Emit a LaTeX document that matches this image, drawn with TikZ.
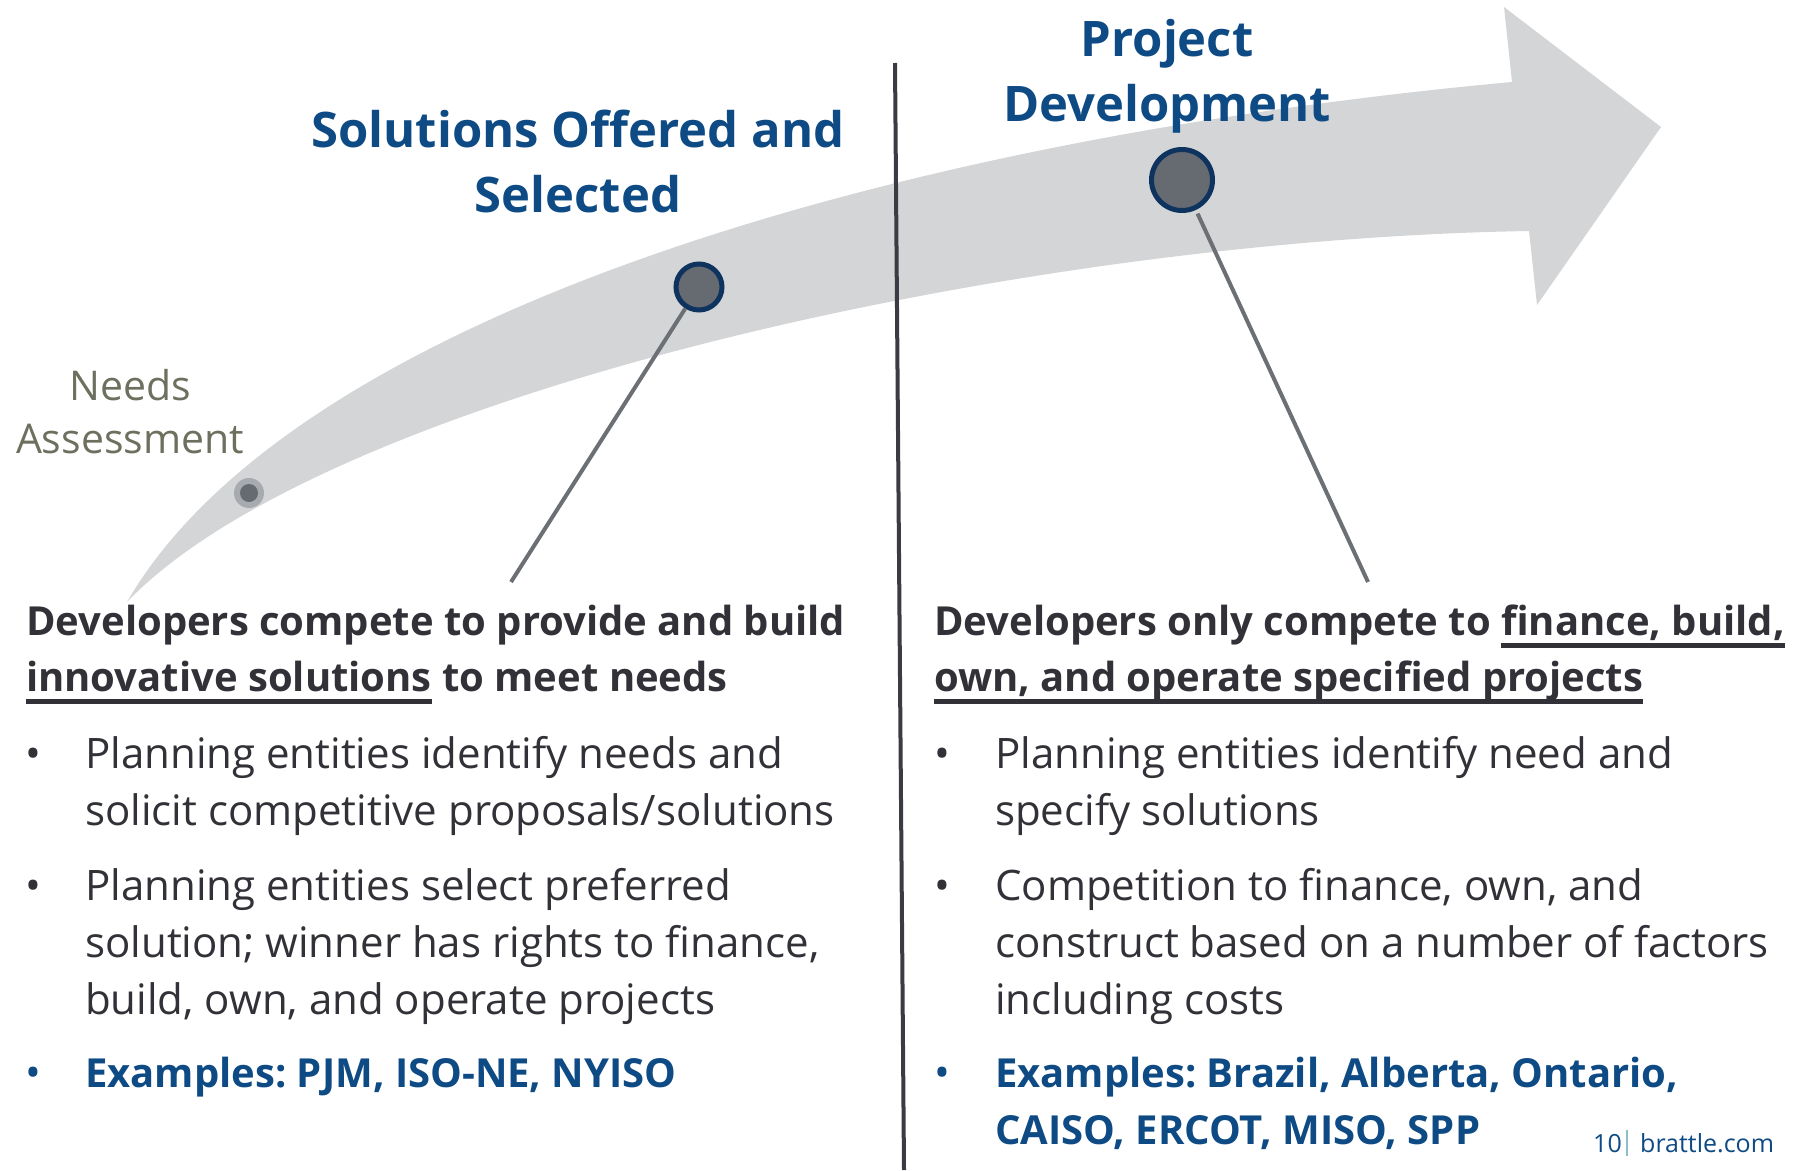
\documentclass[tikz,border=0pt]{standalone}
\usepackage{fontspec}
\setmainfont{Open Sans}

\definecolor{arrowgray}{HTML}{D4D5D7}
\definecolor{brattleblue}{HTML}{0E4A84}
\definecolor{bodyink}{HTML}{313137}
\definecolor{needsolive}{HTML}{6D705E}
\definecolor{dotgray}{HTML}{666A71}
\definecolor{haloGray}{HTML}{A7AAAF}
\definecolor{ringnavy}{HTML}{0F335F}
\definecolor{leadergray}{HTML}{6C7074}
\definecolor{dividerink}{HTML}{3C3B44}
\definecolor{footbar}{HTML}{8DBFC8}

% thick underline that sits below the baseline
\newcommand\undl[1]{\setbox0=\hbox{#1}\rlap{\rule[-12.5pt]{\wd0}{4.5pt}}\box0\relax}

\begin{document}
\begin{tikzpicture}[x=1pt,y=-1pt,
    stagetitle/.style={inner sep=0pt, align=center, text=brattleblue,
      font=\fontsize{49}{65}\selectfont\bfseries},
    milestone/.style={circle, draw=ringnavy, fill=dotgray, line width=5pt, inner sep=0pt},
    leader/.style={draw=leadergray, line width=4pt},
    header/.style={inner sep=0pt, align=left, text=bodyink,
      font=\fontsize{40}{56}\selectfont\bfseries\frenchspacing},
    item/.style={inner sep=0pt, align=left, text=bodyink,
      font=\fontsize{42}{57}\selectfont\frenchspacing},
    example/.style={item, text=brattleblue,
      font=\fontsize{40}{57}\selectfont\bfseries\frenchspacing},
    bullet/.style={inner sep=0pt, text=bodyink, font=\fontsize{42}{57}\selectfont}]
  \useasboundingbox (0,0) rectangle (1801,1170);

  % the big curved arrow
  \fill[arrowgray] (127,602) .. controls (290,320) and (880,140) .. (1512,82)
    -- (1504,7) -- (1661,127) -- (1537,305) -- (1529,231)
    .. controls (1000,240) and (320,400) .. (127,602) -- cycle;

  % divider
  \coordinate (divtop) at (895,63);
  \coordinate (divbot) at (904,1170);
  \draw[dividerink, line width=4pt] (divtop) -- (divbot);

  % needs assessment dot
  \fill[haloGray] (249,493) circle (15);
  \node[circle, fill=dotgray, inner sep=0pt, minimum size=18pt] (needs) at (249,493) {};
  \node[inner sep=0pt, align=center, text=needsolive, font=\fontsize{41}{53}\selectfont,
    anchor=base] (needsLabel) at (130,453) {Needs\\Assessment};

  % stage titles (base = last line)
  \node[stagetitle, anchor=base] (solTitle) at (578,212) {Solutions Offered and\\Selected};
  \node[stagetitle, anchor=base] (projTitle) at (1167,121) {Project\\Development};

  % milestones and their leader lines
  \node[milestone, minimum size=46pt] (sol) at (699,287) {};
  \node[milestone, minimum size=61pt] (proj) at (1182,180) {};
  \coordinate (solEnd) at (511,582);
  \coordinate (projEnd) at (1368,582);
  \draw[leader] (sol) -- (solEnd);
  \draw[leader, shorten <=4pt] (proj) -- (projEnd);

  % left column
  \node[header, anchor=base west] (leftHead) at (26,691)
    {Developers compete to provide and build\\\undl{innovative solutions} to meet needs};
  \node[bullet, anchor=base] (lb1) at (33,768) {•};
  \node[item, anchor=base west] (li1) at (85,825)
    {Planning entities identify needs and\\solicit competitive proposals/solutions};
  \node[bullet, anchor=base] (lb2) at (33,900) {•};
  \node[item, anchor=base west] (li2) at (85,1014)
    {Planning entities select preferred\\solution; winner has rights to finance,\\build, own, and operate projects};
  \node[bullet, anchor=base, text=brattleblue] (lb3) at (33,1087) {•};
  \node[example, anchor=base west] (li3) at (85,1087)
    {Examples: PJM, ISO-NE, NYISO};

  % right column
  \node[header, anchor=base west] (rightHead) at (934,691)
    {Developers only compete to \undl{finance, build,}\\\undl{own, and operate specified projects}};
  \node[bullet, anchor=base] (rb1) at (942,768) {•};
  \node[item, anchor=base west] (ri1) at (995,825)
    {Planning entities identify need and\\specify solutions};
  \node[bullet, anchor=base] (rb2) at (942,900) {•};
  \node[item, anchor=base west] (ri2) at (995,1014)
    {Competition to finance, own, and\\construct based on a number of factors\\including costs};
  \node[bullet, anchor=base, text=brattleblue] (rb3) at (942,1087) {•};
  \node[example, anchor=base west] (ri3) at (995,1144)
    {Examples: Brazil, Alberta, Ontario,\\CAISO, ERCOT, MISO, SPP};

  % page footer
  \node[inner sep=0pt, anchor=base west, text=brattleblue, font=\fontsize{25}{30}\selectfont]
    (pageNo) at (1593,1152) {10};
  \fill[footbar] (1626,1130) rectangle (1628,1156);
  \node[inner sep=0pt, anchor=base west, text=brattleblue, font=\fontsize{25}{30}\selectfont]
    (site) at (1640,1152) {brattle.com};
\end{tikzpicture}
\end{document}
